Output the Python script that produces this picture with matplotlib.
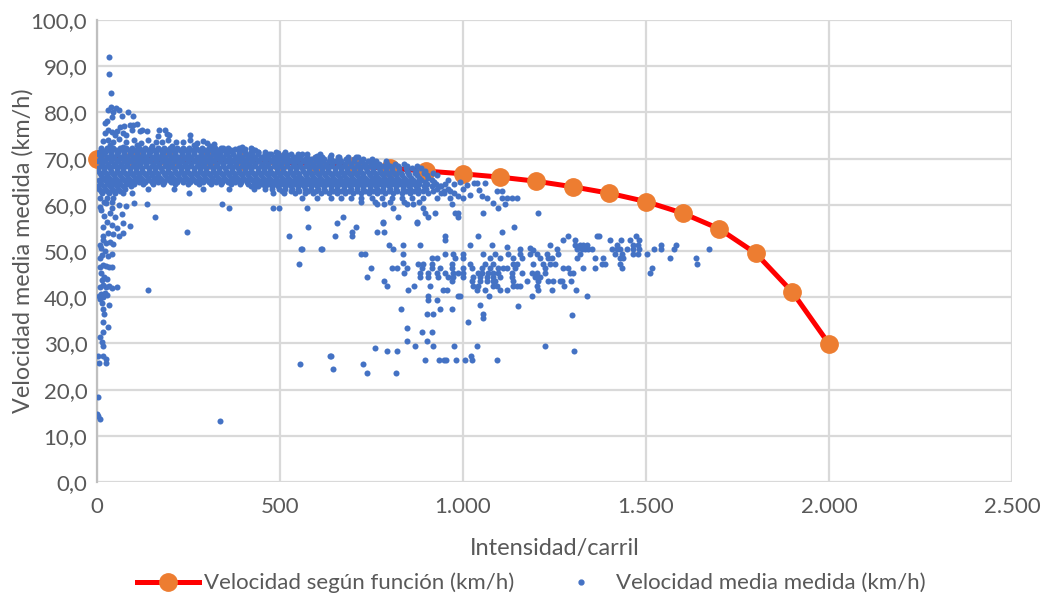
import matplotlib as mpl

mpl.use("Agg")
import matplotlib.pyplot as plt
import numpy as np
from matplotlib.lines import Line2D

plt.rcParams["font.family"] = ["Lato", "DejaVu Sans"]

BLUE = "#4472C4"
ORANGE = "#ED7D31"
RED = "#FF0000"
TEXT = "#595959"
GRID = "#D9D9D9"

# curve: speed from the function
func_q = [0, 100, 200, 300, 400, 500, 600, 700, 800, 900, 1000,
          1100, 1200, 1300, 1400, 1500, 1600, 1700, 1800, 1900, 2000]
func_v = [70.0, 69.9, 69.8, 69.6, 69.4, 69.2, 68.9, 68.4, 67.9, 67.3, 66.7,
          66.0, 65.1, 63.9, 62.5, 60.7, 58.2, 54.8, 49.5, 41.1, 29.9]

# measured points, dense band, one list of flows per speed level
core_levels = [72.4, 71.9, 71.4, 70.9, 70.4, 69.9, 69.4, 68.9, 68.4, 67.9, 67.4, 66.9, 66.4,
               65.9, 65.4, 64.9, 64.5, 64.0, 63.5, 63.0, 62.5, 61.5, 60.6]
core_flows = [
    [10, 27, 44, 62, 79, 96, 114, 131, 148, 166, 183, 200, 218, 235, 252, 270, 287, 305, 322, 339,
     357, 388, 420],
    [15, 33, 51, 70, 88, 105, 122, 140, 157, 175, 192, 209, 227, 244, 261, 279, 296, 313, 331, 348,
     366, 398, 432],
    [6, 22, 39, 57, 74, 92, 109, 126, 144, 161, 179, 196, 213, 231, 248, 266, 283, 300, 318, 335,
     353, 370, 387, 405, 422, 440, 460, 488, 515],
    [3, 20, 38, 56, 73, 91, 108, 126, 143, 161, 178, 196, 213, 231, 248, 266, 283, 301, 318, 336,
     353, 371, 388, 406, 423, 441, 458, 476, 494, 511, 530, 548, 575, 610],
    [12, 30, 47, 65, 82, 100, 117, 135, 152, 170, 187, 205, 222, 240, 257, 275, 292, 310, 327, 345,
     362, 380, 397, 415, 432, 450, 467, 485, 502, 520, 538, 556, 575, 595, 615, 637, 660, 686, 712],
    [8, 25, 42, 60, 77, 95, 112, 130, 147, 165, 182, 200, 217, 235, 252, 270, 287, 305, 322, 340,
     357, 375, 392, 410, 427, 445, 462, 480, 497, 515, 532, 550, 567, 585, 603, 621, 640, 660, 680,
     702, 726, 752],
    [4, 20, 38, 55, 73, 90, 108, 125, 143, 160, 178, 195, 213, 230, 248, 265, 283, 300, 318, 335,
     353, 370, 388, 405, 423, 440, 458, 475, 493, 510, 528, 545, 563, 580, 598, 615, 633, 650, 668,
     685, 703, 721, 740, 762, 790],
    [13, 30, 48, 65, 83, 100, 118, 135, 153, 170, 188, 205, 223, 240, 258, 275, 293, 310, 328, 345,
     363, 380, 398, 415, 433, 450, 468, 485, 503, 520, 538, 555, 573, 590, 608, 625, 643, 660, 678,
     695, 713, 731, 750, 770, 792, 815, 840],
    [10, 28, 45, 63, 80, 98, 115, 133, 150, 168, 185, 203, 220, 238, 255, 273, 290, 308, 325, 343,
     360, 378, 395, 413, 430, 448, 465, 483, 500, 518, 535, 553, 570, 588, 605, 623, 640, 658, 675,
     693, 710, 728, 745, 763, 781, 800, 822, 848, 875],
    [2, 19, 36, 54, 71, 89, 106, 124, 141, 159, 176, 194, 211, 229, 246, 264, 281, 299, 316, 334,
     351, 369, 386, 404, 421, 439, 456, 474, 491, 509, 526, 544, 561, 579, 596, 614, 631, 649, 666,
     684, 701, 719, 736, 754, 771, 789, 806, 824, 843, 862, 885],
    [3, 19, 37, 54, 72, 89, 107, 124, 142, 159, 177, 194, 212, 229, 247, 264, 282, 299, 317, 334,
     352, 369, 387, 404, 422, 439, 457, 474, 492, 509, 527, 544, 562, 579, 597, 614, 632, 649, 667,
     684, 702, 719, 737, 754, 772, 789, 807, 826, 848, 872, 897],
    [7, 24, 42, 59, 77, 94, 112, 129, 147, 164, 182, 199, 217, 234, 252, 269, 287, 304, 322, 339,
     357, 374, 392, 409, 427, 444, 462, 479, 497, 514, 532, 549, 567, 584, 602, 619, 637, 654, 672,
     689, 707, 724, 742, 759, 777, 794, 812, 830, 850, 870, 893, 918],
    [11, 28, 46, 63, 81, 98, 116, 133, 151, 168, 186, 203, 221, 238, 256, 273, 291, 308, 326, 343,
     361, 378, 396, 413, 431, 448, 466, 483, 501, 518, 536, 553, 571, 588, 606, 623, 641, 658, 676,
     693, 711, 728, 746, 763, 781, 798, 816, 834, 853, 875, 902, 930],
    [16, 33, 50, 68, 85, 103, 120, 138, 155, 173, 190, 208, 225, 243, 260, 278, 295, 313, 330, 348,
     365, 383, 400, 418, 435, 453, 470, 488, 505, 523, 540, 558, 575, 593, 610, 628, 645, 663, 680,
     698, 715, 733, 750, 768, 785, 803, 820, 839, 858, 880, 905],
    [5, 21, 38, 56, 73, 91, 108, 126, 143, 161, 178, 196, 213, 231, 248, 266, 283, 301, 318, 336,
     353, 371, 388, 406, 423, 441, 458, 476, 493, 511, 528, 546, 563, 581, 598, 616, 633, 651, 668,
     686, 703, 721, 738, 756, 773, 791, 808, 826, 844, 863, 886, 915],
    [9, 26, 44, 61, 79, 96, 114, 131, 149, 166, 184, 201, 219, 236, 254, 271, 289, 306, 324, 341,
     359, 376, 394, 411, 429, 446, 464, 481, 499, 516, 534, 551, 569, 586, 604, 621, 639, 656, 674,
     691, 709, 726, 744, 761, 779, 796, 814, 832, 851, 872, 896, 920],
    [12, 29, 47, 64, 82, 100, 125, 152, 180, 214, 248, 280, 312, 340, 365, 390, 412, 432, 450, 468,
     486, 504, 522, 540, 557, 575, 593, 611, 629, 646, 664, 682, 700, 718, 736, 753, 771, 789, 807,
     825, 843, 861, 880, 902, 925, 950],
    [4, 20, 36, 55, 72, 92, 420, 441, 459, 477, 495, 513, 531, 548, 566, 584, 602, 620, 638, 656,
     674, 692, 710, 727, 745, 763, 781, 799, 817, 835, 853, 872, 893, 915, 940],
    [6, 22, 40, 58, 76, 140, 210, 290, 360, 430, 460, 478, 496, 514, 532, 549, 567, 585, 603, 621,
     639, 657, 675, 693, 711, 728, 746, 764, 782, 800, 818, 836, 855, 876, 900, 928, 958],
    [10, 28, 46, 64, 505, 529, 551, 576, 598, 623, 645, 667, 689, 711, 733, 755, 777, 799, 821, 843,
     866, 891, 917, 948],
    [14, 32, 50, 70, 95, 250, 480, 510, 540, 568, 590, 612, 634, 656, 678, 700, 722, 744, 766, 788,
     810, 832, 854, 878, 905, 940, 975],
    [8, 26, 45, 560, 600, 640, 668, 695, 722, 750, 778, 806, 834, 862, 890, 930, 965, 1000],
    [18, 40, 720, 760, 800, 840, 880],
]

# measured points near the vertical axis (low flows)
axis_pts = [
    (2, 18.4), (0, 14.7), (8, 13.6), (3, 14.3), (336, 13.3),
    (3, 27.3), (17, 27.3), (5, 25.7), (24, 25.7), (24, 26.6),
    (8, 31.4), (13, 30.3), (16, 29.4), (16, 32.5), (30, 33.6), (16, 34.6), (19, 36.4), (16, 37.4),
    (33, 38.3), (13, 38.8), (5, 40.2), (10, 40.8), (16, 40.0), (22, 41.0), (28, 40.4), (8, 39.6),
    (8, 42.2), (16, 42.6), (24, 42.2), (33, 42.4), (41, 42.0), (55, 42.2), (139, 41.6),
    (14, 43.7), (20, 44.4), (27, 43.9), (10, 45.2),
    (8, 46.5), (16, 47.0), (25, 46.8), (33, 46.6), (41, 46.5),
    (8, 48.5), (14, 49.2), (22, 50.0), (30, 48.9), (41, 49.4), (12, 50.6),
    (8, 51.3), (16, 52.4), (25, 51.8), (35, 52.0), (44, 51.5),
    (16, 53.2), (30, 54.0), (45, 53.6), (60, 53.2), (71, 54.0), (246, 54.1),
    (16, 55.2), (28, 56.3), (40, 55.6), (55, 55.0), (70, 56.0), (90, 55.5), (158, 57.4),
    (20, 57.6), (35, 58.2), (50, 57.4), (68, 58.0), (12, 58.8),
    (8, 59.6), (25, 60.3), (40, 59.3), (60, 60.0), (80, 59.8), (100, 60.4),
    (136, 60.2), (341, 60.2), (361, 59.3), (481, 59.3), (497, 59.3), (574, 59.3),
]

# measured points above the band
upper_pts = [
    (33, 92.0), (33, 88.3), (38, 84.2), (30, 80.5), (38, 81.2), (45, 80.0), (52, 81.0), (60, 80.6),
    (85, 80.0), (98, 79.2), (68, 79.2), (40, 79.0), (27, 78.1), (22, 77.7), (90, 77.3), (98, 77.3),
    (110, 77.5), (22, 75.5), (30, 76.2), (40, 75.8), (48, 75.2), (55, 76.0), (71, 75.5), (80, 75.2),
    (96, 76.2), (117, 76.0), (123, 76.2), (136, 76.0), (169, 76.2), (186, 76.2), (166, 75.0),
    (191, 75.3), (197, 75.1), (254, 75.1), (62, 76.8), (75, 77.0),
    (16, 73.8), (30, 74.0), (45, 73.5), (60, 74.2), (80, 73.6), (100, 74.0), (120, 73.4), (140, 74.1),
    (160, 73.6), (178, 73.6), (195, 74.0), (215, 73.5), (235, 73.6), (255, 74.1), (273, 73.4),
    (290, 73.9), (300, 73.4), (320, 73.2), (328, 71.2), (355, 71.2), (377, 72.0), (405, 72.1),
    (423, 72.1), (440, 71.4), (470, 71.0), (520, 70.8), (560, 71.1), (600, 70.5), (658, 70.3),
    (708, 70.3), (640, 70.8), (495, 71.2), (395, 72.6), (345, 72.4), (310, 72.8), (265, 72.9),
    (205, 72.7), (150, 72.8), (110, 73.0), (70, 72.6), (35, 72.9),
]

# measured points right of the band (flows 930-1210)
right_pts = [
    (937, 64.0), (948, 62.5), (958, 65.4), (965, 63.0), (975, 64.5), (985, 61.8), (992, 65.0),
    (1000, 63.5), (1010, 64.2), (1020, 62.2), (1030, 64.7), (1038, 64.7), (1045, 63.2), (1052, 62.0),
    (1060, 64.7), (1066, 61.5), (1093, 63.0), (1107, 63.0), (1082, 60.4), (1096, 59.3), (1115, 60.2),
    (1107, 61.5), (1120, 61.5), (1134, 61.5), (1148, 61.5), (970, 60.2), (986, 58.2), (986, 57.4),
    (1055, 58.2), (1205, 58.2),
]

# measured points in the congested cloud (flows 550-1300)
lower_pts = [
    (577, 55.2), (656, 56.0), (708, 55.2), (781, 56.0), (874, 56.0), (650, 53.2), (697, 53.2),
    (697, 54.1), (765, 54.1), (784, 54.1), (951, 53.2), (951, 52.4), (1041, 53.2), (1107, 54.1),
    (1139, 55.2), (672, 57.4), (525, 53.2), (557, 50.4), (612, 50.4), (552, 47.2),
    (765, 60.2), (784, 60.2), (781, 56.3), (809, 59.3), (822, 57.4), (847, 60.2), (863, 60.2),
    (874, 56.3), (891, 59.3), (904, 57.4), (923, 58.2), (896, 58.2), (978, 58.2),
    (560, 50.4), (615, 50.4), (721, 49.4), (732, 49.4), (798, 51.3), (836, 51.3), (809, 50.4),
    (883, 51.3), (836, 49.4), (836, 47.4),
    (1019, 51.3), (1079, 51.3), (1120, 50.8), (1156, 50.4), (1183, 50.6), (1191, 50.2),
    (951, 49.4), (973, 49.4), (1000, 49.4), (1055, 49.4), (1087, 49.4), (1123, 49.4), (1156, 49.4),
    (1183, 49.4), (1202, 49.4), (1230, 49.4),
    (915, 48.5), (929, 48.5), (978, 48.5), (1000, 48.5), (1074, 48.5), (1101, 48.5), (1137, 48.5),
    (1161, 48.5), (1210, 48.5), (1232, 48.5),
    (877, 47.2), (891, 47.2), (915, 47.2), (970, 47.2), (1019, 47.2), (1060, 47.2), (1082, 47.2),
    (1137, 47.2), (1148, 47.2), (1191, 47.2), (1219, 47.2),
    (847, 46.3), (888, 46.3), (915, 46.3), (937, 46.3), (970, 46.3), (1000, 46.3), (1025, 46.3),
    (1052, 46.3), (1074, 46.3), (1096, 46.3), (1109, 46.3), (1120, 46.3), (1142, 46.3), (1224, 46.3),
    (748, 46.3), (806, 46.3), (820, 46.3),
    (839, 45.2), (883, 45.2), (904, 45.2), (929, 45.2), (951, 45.2), (973, 45.2), (986, 45.2),
    (1000, 45.2), (1041, 45.2), (1052, 45.2), (1068, 45.2), (1082, 45.2), (1096, 45.2), (1134, 45.2),
    (1161, 45.2), (1189, 45.2), (1202, 45.2), (1224, 45.2),
    (737, 44.4), (883, 44.4), (904, 44.4), (932, 44.4), (959, 44.4), (973, 44.4), (1000, 44.4),
    (1027, 44.4), (1046, 44.4), (1066, 44.4), (1082, 44.4), (1101, 44.4), (1134, 44.4), (1197, 44.4),
    (1210, 44.4),
    (784, 43.5), (970, 43.5), (1025, 43.5), (1046, 43.5), (1066, 43.5), (1082, 43.5), (1087, 43.5),
    (1137, 43.5), (1175, 43.5), (1205, 43.5), (1232, 43.5),
    (792, 42.4), (866, 42.4), (910, 42.4), (1027, 42.4), (1041, 42.4), (1082, 42.4), (1093, 42.4),
    (1137, 42.4), (1148, 42.4), (1156, 42.4), (1202, 42.4),
    (850, 41.6), (945, 41.6), (956, 41.6), (1038, 41.6), (1060, 41.6), (1101, 41.6), (1120, 41.6),
    (1205, 41.6),
    (904, 40.3), (986, 40.3), (992, 40.3), (1071, 40.3), (1189, 40.3),
    (904, 39.4), (929, 39.4), (1046, 38.3), (1150, 38.0),
    (831, 37.4), (937, 37.4), (970, 37.4),
    (902, 36.4), (918, 36.4), (1055, 36.4), (1055, 35.5), (1014, 34.6), (1298, 36.2),
    (847, 33.3), (888, 32.5), (915, 32.5), (847, 30.5), (902, 30.5),
    (869, 29.4), (918, 29.4), (975, 29.4), (1038, 29.4), (1224, 29.4), (760, 29.0), (792, 28.4),
    (820, 28.4), (1303, 28.4),
    (639, 27.3), (645, 24.5), (555, 25.5), (727, 25.5), (737, 23.6), (817, 23.6), (637, 27.3),
    (896, 26.4), (934, 26.4), (948, 26.4), (953, 26.4), (981, 26.4), (1005, 26.4), (1022, 27.3),
    (1025, 26.4), (1093, 26.4),
]

# measured points at high flows (1230-1680)
east_pts = [
    (1287, 53.2), (1366, 53.2), (1372, 53.2), (1473, 53.2),
    (1273, 52.4), (1306, 52.4), (1402, 52.4), (1432, 52.4), (1456, 52.4), (1481, 52.4),
    (1238, 51.3), (1306, 51.3), (1320, 51.3), (1328, 51.3), (1339, 51.3), (1421, 51.3), (1464, 51.3),
    (1478, 51.3), (1541, 51.3), (1582, 51.3),
    (1257, 50.4), (1311, 50.4), (1325, 50.4), (1333, 50.4), (1342, 50.4), (1352, 50.4), (1407, 50.4),
    (1421, 50.4), (1429, 50.4), (1448, 50.4), (1464, 50.4), (1481, 50.4), (1522, 50.4), (1541, 50.4),
    (1577, 50.4), (1672, 50.4),
    (1260, 49.4), (1320, 49.4), (1415, 49.4), (1434, 49.4), (1464, 49.4), (1478, 49.4), (1503, 49.4),
    (1243, 48.5), (1311, 48.5), (1361, 48.5), (1383, 48.5), (1429, 48.5), (1437, 48.5), (1566, 48.5),
    (1637, 48.5),
    (1238, 47.2), (1251, 47.2), (1380, 47.2), (1388, 47.2), (1429, 47.2), (1639, 47.2),
    (1273, 46.3), (1287, 46.3), (1328, 46.3), (1361, 46.3), (1434, 46.3), (1516, 46.3),
    (1292, 45.2), (1301, 45.2), (1511, 45.2),
    (1246, 43.5), (1265, 43.5), (1270, 43.5), (1295, 43.5),
    (1276, 42.4), (1243, 41.6), (1309, 41.6), (1339, 40.3),
]

x_ticks = [0, 500, 1000, 1500, 2000, 2500]
y_ticks = [0, 10, 20, 30, 40, 50, 60, 70, 80, 90, 100]

core_q = [q for lev, row in zip(core_levels, core_flows) for q in row]
core_v = [lev for lev, row in zip(core_levels, core_flows) for q in row]
extra = np.array(axis_pts + upper_pts + right_pts + lower_pts + east_pts)
meas_q = np.concatenate([core_q, extra[:, 0]])
meas_v = np.concatenate([core_v, extra[:, 1]])

fig = plt.figure(figsize=(10.46, 6.0), dpi=100)
ax = fig.add_axes([97 / 1046, 1 - 482 / 600, 915 / 1046, 462 / 600])

ax.plot(func_q, func_v, color=RED, lw=3.6, marker="o", ms=12.5,
        mfc=ORANGE, mec=ORANGE, zorder=3, clip_on=False)
ax.scatter(meas_q, meas_v, s=19, color=BLUE, linewidths=0, zorder=4)

ax.set_xlim(0, 2500)
ax.set_ylim(0, 100)
ax.set_xticks(x_ticks)
ax.set_xticklabels([f"{v:,}".replace(",", ".") for v in x_ticks])
ax.set_yticks(y_ticks)
ax.set_yticklabels([f"{v:.1f}".replace(".", ",") for v in y_ticks])
ax.tick_params(length=0, labelsize=16, colors=TEXT)
ax.tick_params(axis="x", pad=11)
ax.tick_params(axis="y", pad=7)
ax.grid(True, color=GRID, lw=1.6)
ax.set_axisbelow(True)
for side in ("top", "right", "bottom"):
    ax.spines[side].set_visible(False)
ax.spines["left"].set_color("#BFBFBF")
ax.spines["left"].set_linewidth(1.6)

ax.set_xlabel("Intensidad/carril", fontsize=17, color=TEXT, labelpad=15)
ax.set_ylabel("Velocidad media medida (km/h)", fontsize=16.8, color=TEXT, labelpad=-2)

handles = [
    Line2D([], [], color=RED, lw=3.6, marker="o", ms=12.5, mfc=ORANGE, mec=ORANGE),
    Line2D([], [], color=BLUE, lw=0, marker="o", ms=3.5, mec=BLUE),
]
labels = ["Velocidad según función (km/h)", "Velocidad media medida (km/h)"]
fig.legend(handles, labels, loc="center", bbox_to_anchor=(0.508, 1 - 583 / 600), ncol=2,
           frameon=False, fontsize=16, labelcolor=TEXT, handlelength=2.8,
           handletextpad=0.2, columnspacing=1.6)

fig.savefig("out.png", dpi=100)
